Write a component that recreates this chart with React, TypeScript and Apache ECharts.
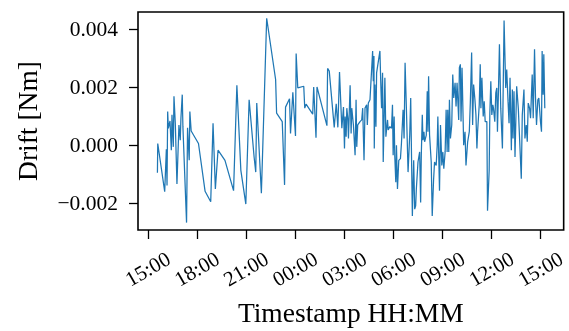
import React, { useEffect, useRef } from "react";
import * as echarts from "echarts";

// Hours elapsed since 15:00 on the first day
const hoursSinceStart: number[] = [
  0.587, 0.607, 1.032, 1.133, 1.174, 1.214, 1.255, 1.356, 1.437, 1.477,
  1.558, 1.599, 1.68, 1.781, 1.902, 1.983, 2.024, 2.105, 2.145, 2.368,
  2.429, 2.53, 2.57, 2.651, 3.097, 3.501, 3.845, 3.987, 4.129, 4.291,
  4.716, 5.242, 5.444, 5.687,
  5.991, 6.193, 6.497, 6.598, 6.659, 6.942, 7.266, 7.812, 7.873, 8.217,
  8.359, 8.419, 8.662, 8.723, 8.865, 9.027, 9.067, 9.168, 9.532, 9.593,
  9.674, 10.079, 10.14, 10.281, 10.342, 10.949, 10.99, 11.091, 11.395, 11.516,
  11.617, 11.718, 11.86, 11.961,
  12.022, 12.062, 12.123, 12.164, 12.224, 12.265, 12.366, 12.427, 12.467, 12.568,
  12.67, 12.73, 12.771, 12.831, 12.973, 13.074, 13.135, 13.216, 13.277, 13.378,
  13.418, 13.479, 13.58, 13.681, 13.742, 13.783, 13.823, 13.843, 13.884, 13.945,
  13.985, 14.188, 14.248, 14.289, 14.349, 14.39, 14.491, 14.552, 14.653, 14.693,
  14.795, 14.896, 14.956, 14.997, 15.058, 15.098, 15.159, 15.199, 15.26, 15.341,
  15.442, 15.503, 15.604, 15.665, 15.726, 15.806, 15.908, 16.009, 16.07, 16.171,
  16.211, 16.252, 16.313, 16.373, 16.414, 16.515, 16.616, 16.677, 16.717, 16.778,
  16.819, 16.879, 16.92, 17.021, 17.081, 17.122, 17.163, 17.223, 17.324, 17.385,
  17.466, 17.527, 17.628, 17.689, 17.729, 17.831, 17.891, 17.972, 18.033, 18.093,
  18.174, 18.235, 18.296, 18.336,
  18.397, 18.437, 18.498, 18.579, 18.64, 18.701, 18.782, 18.842, 18.903, 19.004,
  19.045, 19.106, 19.146, 19.207, 19.308, 19.389, 19.449, 19.551, 19.652, 19.713,
  19.794, 19.854, 19.915, 19.996, 20.057, 20.117, 20.158, 20.259, 20.32, 20.36,
  20.421, 20.502, 20.563, 20.623, 20.724, 20.765, 20.866, 20.907, 20.967, 21.028,
  21.089, 21.129, 21.21, 21.271, 21.332, 21.372, 21.433, 21.494, 21.574, 21.676,
  21.777, 21.878, 21.939, 22.02, 22.081, 22.141, 22.222, 22.283, 22.324, 22.384,
  22.445, 22.546, 22.647, 22.829, 22.89, 22.992, 23.052, 23.133, 23.194, 23.254,
  23.335, 23.396, 23.497, 23.558, 23.639, 23.699, 23.76, 23.841, 23.902, 24.003,
  24.064, 24.104, 24.165, 24.206, 24.267,
];

// Drift in mNm (converted to Nm for plotting)
const driftMilliNm: number[] = [
  -0.954, 0.058, -1.605, -0.14, -1.396, 1.163, 0.582, 0.837, -0.174, 1.047,
  -0.058, 1.686, 0.756, -1.337, 0.698, 0.174, 0.93, 1.745, 0.64, -2.675,
  0.605, -0.523, 1.163, 0.488, 0.058, -1.593, -1.954, 0.756, -1.512, -0.174,
  -0.523, -1.57, 2.07, -0.87,
  -2.035, 1.57, -0.407, -0.93, 1.454, -1.663, 4.385, 2.268, 1.105, 0.814,
  -1.372, 1.314, 1.605, 0.407, 1.826, 0.314, 3.163, 1.977, 2.035, 1.279,
  1.419, 1.07, 2.012, 0.256, 2.012, 0.675, 2.652, 2.559, 0.616, 1.43,
  0.616, 2.524, 0.582, 1.314,
  -0.116, 0.989, 0.291, 1.279, 0.93, 0.233, 2.07, 0.407, 1.279, 0.698,
  -0.349, 1.57, -0.058, 0.698, 0.814, 0.872, 1.279, -0.523, 1.279, 1.396,
  0.698, 1.454, 1.57, 2.617, 3.256, 2.21, 3.082, -0.116, 2.093, 0.64,
  2.5, 3.256, 1.977, 1.279, 2.5, -0.582, 2.326, 0.291, 0.872, 0.523,
  0.64, 0.582, 1.396, -0.349, 0.989, -0.407, -1.279, 0.0, -1.512, -0.523,
  -0.465, 0.058, 1.221, 0.233, 2.849, 1.279, -0.93, 0.349, 1.628, -2.442,
  -1.454, -0.523, -2.21, -2.093, -1.512, -0.582, -0.233, -1.977, -0.349, 1.047,
  0.174, 0.465, 0.116, 0.349, 1.861, 0.465, 2.384, 0.349, -0.582, -2.442,
  -1.221, -0.582, -0.698, 0.0, 0.989, -1.57, 0.698, -0.698, -0.233, -0.814,
  -0.233, 1.221, -0.233, 1.221,
  -0.233, 1.57, 0.233, 0.698, 2.442, 1.628, 2.152, 1.337, 2.152, 0.872,
  2.675, 2.791, 0.814, 2.675, 0.0, 0.465, -0.698, 0.116, 0.465, 1.454,
  3.198, 0.698, 2.093, 1.57, 1.047, -0.116, 0.465, 1.396, 2.791, 1.279,
  2.326, 0.989, 1.512, 0.814, 0.814, -2.268, -0.872, 1.105, 2.21, 1.047,
  1.396, 1.279, 0.814, 1.803, 1.977, 0.465, 1.861, 3.489, 1.279, -0.116,
  4.303, 1.977, 2.617, 1.512, 0.756, 2.326, -0.174, 1.919, 0.233, 1.861,
  -0.407, 2.035, 1.279, -1.163, 1.047, 1.919, 0.233, 0.698, 0.116, 1.454,
  1.279, 0.93, 2.442, 0.93, 3.315, 1.628, 0.698, 1.57, 1.628, 0.814,
  0.465, 3.256, 1.744, 3.14, 1.279,
];

const startHour = 15;
const xTickHours: number[] = [0, 3, 6, 9, 12, 15, 18, 21, 24];
const yTickValues: number[] = [-0.002, 0, 0.002, 0.004];

const FONT = "'Liberation Serif', 'DejaVu Serif', serif";

export default function App() {
  const ref = useRef<HTMLDivElement>(null);
  useEffect(() => {
    if (!ref.current) return;
    const chart = echarts.init(ref.current, null, { renderer: "svg" });
    const data = hoursSinceStart.map((h, i) => [h, driftMilliNm[i] * 1e-3]);
    const fmtTime = (v: number) => {
      const mins = (Math.round(v * 60) + startHour * 60) % 1440;
      const hh = Math.floor(mins / 60);
      const mm = mins % 60;
      return `${String(hh).padStart(2, "0")}:${String(mm).padStart(2, "0")}`;
    };
    const fmtY = (v: number) => {
      const s = Math.abs(v).toFixed(3);
      return v < -1e-9 ? "\u2212" + s : s;
    };
    chart.setOption({
      animation: false,
      grid: {
        left: 138,
        right: 3,
        top: 12,
        bottom: 98,
        show: true,
        borderColor: "#000",
        borderWidth: 1.6,
        backgroundColor: "transparent",
      },
      xAxis: {
        type: "value",
        min: -0.6,
        max: 25.42,
        axisLine: { show: false, onZero: false },
        splitLine: { show: false },
        axisTick: {
          show: true,
          customValues: xTickHours,
          length: 9,
          lineStyle: { color: "#000", width: 1.3 },
        },
        axisLabel: {
          customValues: xTickHours,
          rotate: 30,
          align: "center",
          verticalAlign: "middle",
          margin: 39,
          formatter: fmtTime,
          fontFamily: FONT,
          fontSize: 21,
          color: "#000",
        },
        name: "Timestamp HH:MM",
        nameLocation: "middle",
        nameGap: 68,
        nameTextStyle: { fontFamily: FONT, fontSize: 27.5, color: "#000" },
      },
      yAxis: {
        type: "value",
        min: -0.00293,
        max: 0.0046,
        axisLine: { show: false, onZero: false },
        splitLine: { show: false },
        axisTick: {
          show: true,
          customValues: yTickValues,
          length: 9,
          lineStyle: { color: "#000", width: 1.3 },
        },
        axisLabel: {
          customValues: yTickValues,
          margin: 20,
          formatter: fmtY,
          fontFamily: FONT,
          fontSize: 21.5,
          color: "#000",
        },
        name: "Drift [Nm]",
        nameLocation: "middle",
        nameGap: 97,
        nameTextStyle: { fontFamily: FONT, fontSize: 27.5, color: "#000" },
      },
      series: [
        {
          type: "line",
          data,
          showSymbol: false,
          symbol: "none",
          lineStyle: { color: "#1f77b4", width: 1.25 },
          emphasis: { disabled: true },
        },
      ],
    });
    return () => chart.dispose();
  }, []);
  return (
    <div
      ref={ref}
      style={{ position: "fixed", left: 0, top: 0, width: 569, height: 331 }}
    />
  );
}
